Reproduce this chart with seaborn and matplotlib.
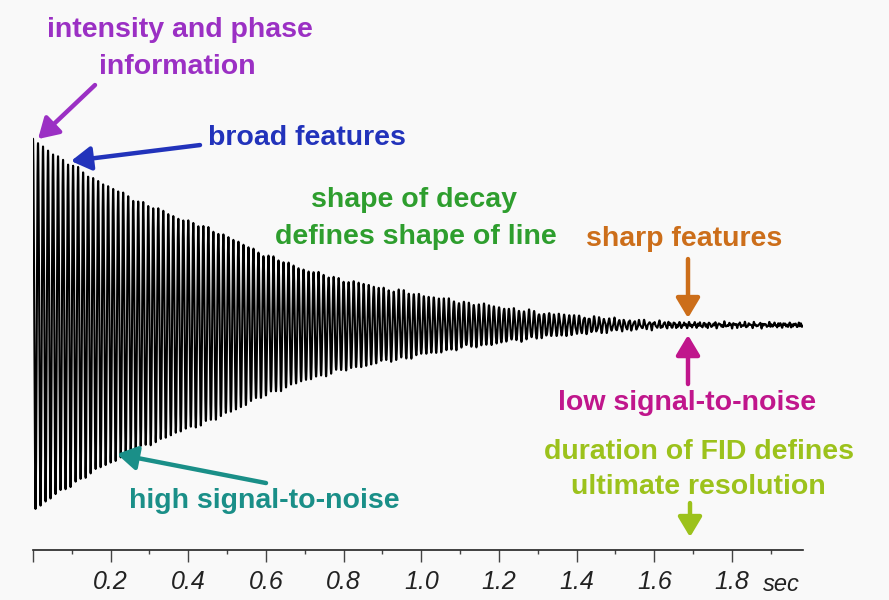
import numpy as np
import pandas as pd
import matplotlib
matplotlib.use("Agg")
import matplotlib.pyplot as plt
import seaborn as sns

# ---- data ----
# envelope of the FID (signal amplitude, arbitrary units) at given times (sec)
env_time = [0.0, 0.05, 0.22, 0.48, 0.73, 0.98, 1.19, 1.45, 1.68, 1.983]
env_amp = [100.0, 93.0, 72.0, 50.0, 28.0, 17.0, 10.0, 4.0, 1.0, 0.6]
# oscillation frequency (Hz)
carrier_freq = 77.5
# residual noise components (Hz) and amplitudes
noise_freq = [131.0, 173.0, 223.0]
noise_amp = [0.5, 0.45, 0.35]
t_end = 1.983

major_ticks = [0.0, 0.2, 0.4, 0.6, 0.8, 1.0, 1.2, 1.4, 1.6, 1.8]
major_labels = ["", "0.2", "0.4", "0.6", "0.8", "1.0", "1.2", "1.4", "1.6", "1.8"]
minor_ticks = [0.1, 0.3, 0.5, 0.7, 0.9, 1.1, 1.3, 1.5, 1.7, 1.9]

# ---- build the signal ----
t = np.linspace(0.0, t_end, 16000)
env = np.exp(np.interp(t, env_time, np.log(env_amp)))
carrier = np.cos(2 * np.pi * carrier_freq * t)
noise = sum(a * np.sin(2 * np.pi * f * t + i) for i, (f, a) in enumerate(zip(noise_freq, noise_amp)))
signal = env * carrier + noise
df = pd.DataFrame({"time": t, "signal": signal})

sns.set_theme(style="white")
plt.rcParams["font.family"] = ["Liberation Sans", "DejaVu Sans"]
bg = "#f9f9f9"

fig = plt.figure(figsize=(8.89, 6.0), dpi=100, facecolor=bg)
ax = fig.add_axes([33 / 889, 50 / 600, 770 / 889, 550 / 600])
ax.set_facecolor(bg)

sns.lineplot(data=df, x="time", y="signal", ax=ax, color="black", lw=1.5,
             estimator=None, sort=False)

ax.set_xlim(0, t_end)
ax.set_ylim(-121.6, 175.7)
ax.set_xlabel("")
ax.set_ylabel("")
ax.set_yticks([])
for s in ["top", "left", "right"]:
    ax.spines[s].set_visible(False)
ax.spines["bottom"].set_color("#222222")
ax.spines["bottom"].set_linewidth(1.2)

ax.set_xticks(major_ticks)
ax.set_xticklabels(major_labels, fontstyle="italic", fontsize=18, color="#222222")
ax.set_xticks(minor_ticks, minor=True)
ax.tick_params(axis="x", which="major", direction="out", length=8.5, width=1.0,
               color="#444444", pad=6, bottom=True)
ax.tick_params(axis="x", which="minor", direction="out", length=3, width=1.0,
               color="#444444", bottom=True)


def px(x, y):
    return ((x - 33) / 388.3, (325 - y) / 1.85)


ax.text(*px(781, 584), "sec", fontstyle="italic", fontsize=17, color="#222222",
        ha="center", va="center")

fs = 20.5
def label(x, y, s, c):
    ax.text(*px(x, y), s, fontsize=fs, fontweight="bold", color=c,
            ha="center", va="center", clip_on=False)


def arrow(x0, y0, x1, y1, c):
    ax.annotate("", xy=px(x1, y1), xytext=px(x0, y0),
                arrowprops=dict(arrowstyle="-|>,head_length=0.5,head_width=0.3",
                                lw=3.2, color=c,
                                mutation_scale=24, shrinkA=0, shrinkB=0))


purple = "#9b30c4"
blue = "#2233bb"
green = "#2e9e2e"
orange = "#cc6e1a"
magenta = "#c0168c"
ygreen = "#9cc21c"
teal = "#1a8f88"

label(180, 30, "intensity and phase", purple)
label(177, 67, "information", purple)
arrow(95, 85, 38, 139, purple)

label(307, 138, "broad features", blue)
arrow(200, 145, 71, 161, blue)

label(414, 200, "shape of decay", green)
label(416, 237, "defines shape of line", green)

label(684, 239, "sharp features", orange)
arrow(688, 259, 688, 318, orange)

arrow(688, 384, 688, 335, magenta)
label(687, 403, "low signal-to-noise", magenta)

label(699, 452, "duration of FID defines", ygreen)
label(698, 487, "ultimate resolution", ygreen)
arrow(690, 503, 690, 537, ygreen)

label(264, 501, "high signal-to-noise", teal)
arrow(266, 483, 117, 454, teal)

fig.savefig("out.png", dpi=100, facecolor=bg)
